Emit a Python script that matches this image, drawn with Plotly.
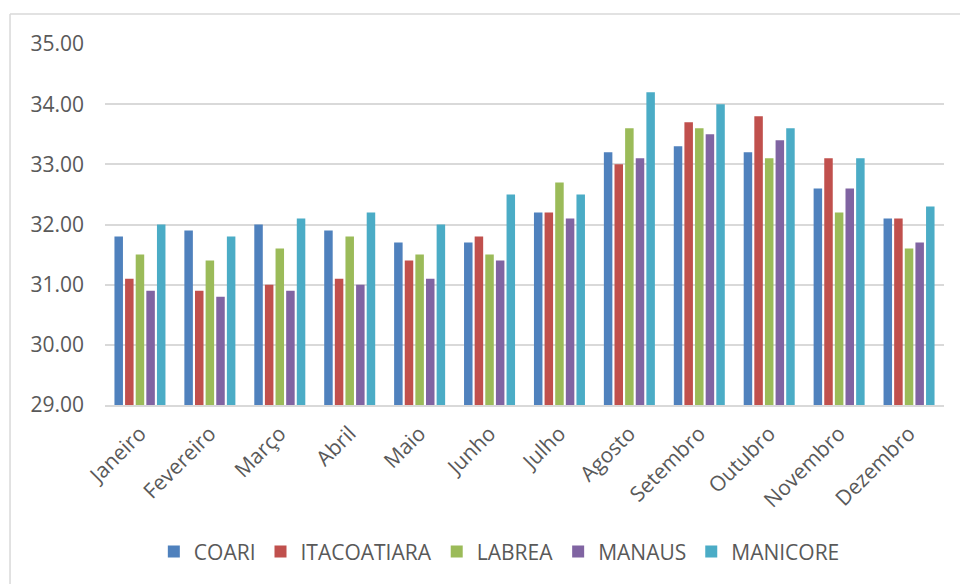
import plotly.graph_objects as go

# Monthly values per station
months = ["Janeiro", "Fevereiro", "Março", "Abril", "Maio", "Junho",
          "Julho", "Agosto", "Setembro", "Outubro", "Novembro", "Dezembro"]

coari = [31.8, 31.9, 32.0, 31.9, 31.7, 31.7, 32.2, 33.2, 33.3, 33.2, 32.6, 32.1]
itacoatiara = [31.1, 30.9, 31.0, 31.1, 31.4, 31.8, 32.2, 33.0, 33.7, 33.8, 33.1, 32.1]
labrea = [31.5, 31.4, 31.6, 31.8, 31.5, 31.5, 32.7, 33.6, 33.6, 33.1, 32.2, 31.6]
manaus = [30.9, 30.8, 30.9, 31.0, 31.1, 31.4, 32.1, 33.1, 33.5, 33.4, 32.6, 31.7]
manicore = [32.0, 31.8, 32.1, 32.2, 32.0, 32.5, 32.5, 34.2, 34.0, 33.6, 33.1, 32.3]

series = [
    ("COARI", coari, "#4F81BD"),
    ("ITACOATIARA", itacoatiara, "#C0504D"),
    ("LABREA", labrea, "#9BBB59"),
    ("MANAUS", manaus, "#8064A2"),
    ("MANICORE", manicore, "#4BACC6"),
]

FONT = "Open Sans"
TEXT_COLOR = "#595959"
GRID = "#d9d9d9"

fig = go.Figure()
for name, vals, color in series:
    fig.add_trace(go.Bar(
        name=name, x=months, y=vals,
        marker=dict(color=color, line=dict(width=0)),
    ))

fig.update_layout(
    width=960, height=584,
    margin=dict(l=105, r=16, t=44, b=179),
    paper_bgcolor="white", plot_bgcolor="white",
    barmode="group", bargap=0.24, bargroupgap=0.2,
    font=dict(family=FONT, color=TEXT_COLOR, size=21),
    showlegend=True,
    legend=dict(
        orientation="h", x=0.47, xanchor="center", y=-0.407, yanchor="middle",
        font=dict(family=FONT, size=21, color=TEXT_COLOR),
        itemwidth=30, tracegroupgap=0,
    ),
    xaxis=dict(
        tickangle=-45, showgrid=False, ticks="",
        showline=True, linecolor=GRID, linewidth=2,
        tickfont=dict(family=FONT, size=21, color=TEXT_COLOR),
        ticklabelstandoff=6,
    ),
    yaxis=dict(
        range=[29, 35], dtick=1, tickformat=".2f",
        showgrid=True, gridcolor=GRID, gridwidth=1.5,
        zeroline=False, showline=False, ticks="",
        tickfont=dict(family=FONT, size=21, color=TEXT_COLOR),
        ticklabelstandoff=20,
    ),
    shapes=[
        # chart frame: left and top edges
        dict(type="line", xref="paper", yref="paper",
             x0=-0.1132, x1=-0.1132, y0=1.0831, y1=-0.6,
             line=dict(color=GRID, width=1.5)),
        dict(type="line", xref="paper", yref="paper",
             x0=-0.1132, x1=1.1, y0=1.0831, y1=1.0831,
             line=dict(color=GRID, width=1.5)),
    ],
)

fig.write_html("out.html")
